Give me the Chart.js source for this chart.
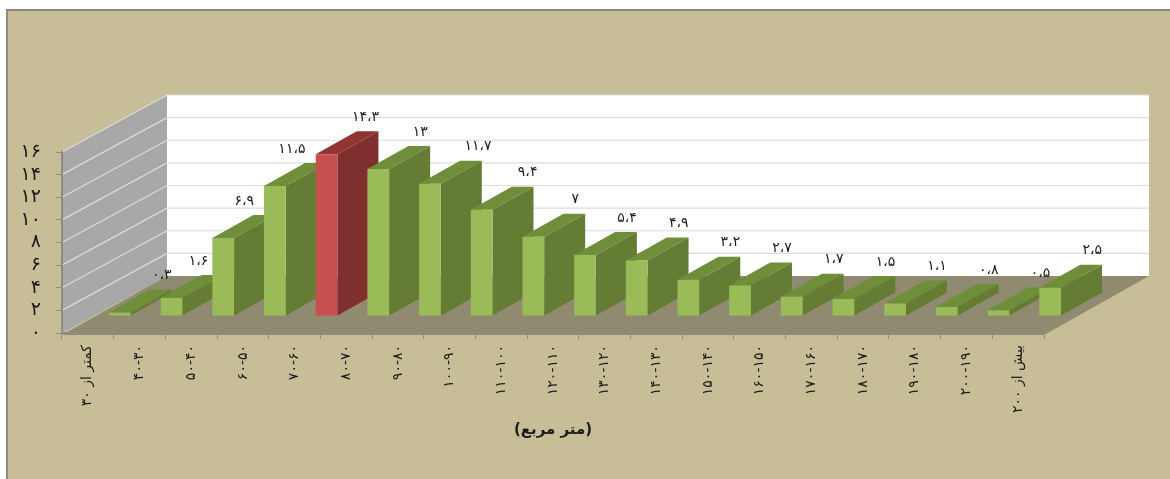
<!DOCTYPE html>
<html>
<head>
<meta charset="utf-8">
<style>
  html, body { margin: 0; padding: 0; background: #fff; }
  #wrap { width: 1170px; height: 479px; }
</style>
<script src="https://cdn.jsdelivr.net/npm/chart.js@4"></script>
</head>
<body>
<div id="wrap"><canvas id="area-chart"></canvas></div>
<script>
const categories = ['کمتر از ۳۰', '۴۰-۳۰', '۵۰-۴۰', '۶۰-۵۰', '۷۰-۶۰', '۸۰-۷۰', '۹۰-۸۰', '۱۰۰-۹۰', '۱۱۰-۱۰۰', '۱۲۰-۱۱۰', '۱۳۰-۱۲۰', '۱۴۰-۱۳۰', '۱۵۰-۱۴۰', '۱۶۰-۱۵۰', '۱۷۰-۱۶۰', '۱۸۰-۱۷۰', '۱۹۰-۱۸۰', '۲۰۰-۱۹۰', 'بیش از ۲۰۰'];
const shares = [0.3, 1.6, 6.9, 11.5, 14.3, 13, 11.7, 9.4, 7, 5.4, 4.9, 3.2, 2.7, 1.7, 1.5, 1.1, 0.8, 0.5, 2.5];
const shareLabels = ['۰،۳', '۱،۶', '۶،۹', '۱۱،۵', '۱۴،۳', '۱۳', '۱۱،۷', '۹،۴', '۷', '۵،۴', '۴،۹', '۳،۲', '۲،۷', '۱،۷', '۱،۵', '۱،۱', '۰،۸', '۰،۵', '۲،۵'];
const yTickLabels = ['۰', '۲', '۴', '۶', '۸', '۱۰', '۱۲', '۱۴', '۱۶'];
const axisTitle = '(متر مربع)';
const highlightIndex = 4;

const FONT = '"DejaVu Sans"';
// depth of the floor, and where the bars stand on it
const WALL_DX = 105, WALL_DY = -57;
const BAR_DX = 32, BAR_DY = -17;
const SIDE_DX = 41, SIDE_DY = -23;
// a few value labels sit closer to their bar
const labelNudge = { 1: -15, 2: -21, 3: -25, 4: -3, 6: 6, 7: 4 };

function poly(ctx, pts, fill) {
  ctx.beginPath();
  pts.forEach((p, i) => (i ? ctx.lineTo(p[0], p[1]) : ctx.moveTo(p[0], p[1])));
  ctx.closePath();
  ctx.fillStyle = fill;
  ctx.fill();
}

const roomPlugin = {
  id: 'room',
  beforeDraw(chart) {
    const { ctx, chartArea: a, scales: { y } } = chart;
    ctx.save();
    ctx.fillStyle = '#c7bd97';
    ctx.fillRect(6, 9, 1164, 470);
    ctx.fillStyle = '#8f8c7e';
    ctx.fillRect(6, 9, 1164, 2);
    ctx.fillRect(6, 9, 2, 470);

    const top = y.getPixelForValue(16), base = y.getPixelForValue(0);
    poly(ctx, [[a.left + WALL_DX, top + WALL_DY], [a.right + WALL_DX, top + WALL_DY], [a.right + WALL_DX, base + WALL_DY], [a.left + WALL_DX, base + WALL_DY]], '#ffffff');
    poly(ctx, [[a.left, top], [a.left + WALL_DX, top + WALL_DY], [a.left + WALL_DX, base + WALL_DY], [a.left, base]], '#a8a8a8');
    poly(ctx, [[a.left, base + 2], [a.right, base + 2], [a.right + WALL_DX, base + WALL_DY], [a.left + WALL_DX, base + WALL_DY]], '#8f8a70');

    ctx.lineWidth = 1.2;
    ctx.strokeStyle = '#dcdcdc';
    y.ticks.forEach((t) => {
      if (t.value === 0) return;
      const py = y.getPixelForValue(t.value);
      ctx.beginPath();
      ctx.moveTo(a.left, py);
      ctx.lineTo(a.left + WALL_DX, py + WALL_DY);
      ctx.lineTo(a.right + WALL_DX, py + WALL_DY);
      ctx.stroke();
    });
    ctx.restore();
  },
  beforeDatasetsDraw(chart) {
    const { ctx } = chart;
    const meta = chart.getDatasetMeta(0);
    ctx.save();
    ctx.translate(BAR_DX, BAR_DY);
    meta.data.forEach((bar, i) => {
      const { x, y, base, width } = bar.getProps(['x', 'y', 'base', 'width'], true);
      const l = x - width / 2, r = x + width / 2;
      const red = i === highlightIndex;
      poly(ctx, [[l, y], [r, y], [r + SIDE_DX, y + SIDE_DY], [l + SIDE_DX, y + SIDE_DY]], red ? '#923432' : '#6f8e39');
      poly(ctx, [[r, y], [r + SIDE_DX, y + SIDE_DY], [r + SIDE_DX, base + SIDE_DY], [r, base]], red ? '#7f2f2d' : '#647c33');
    });
    // the translate stays on for the bars themselves, afterDatasetsDraw restores it
  },
  afterDatasetsDraw(chart) {
    const { ctx } = chart;
    ctx.restore();
    const meta = chart.getDatasetMeta(0);
    ctx.save();
    ctx.font = '14px ' + FONT;
    ctx.letterSpacing = '4px';
    ctx.fillStyle = '#1a1a1a';
    ctx.textAlign = 'center';
    ctx.textBaseline = 'middle';
    meta.data.forEach((bar, i) => {
      const { x, y } = bar.getProps(['x', 'y'], true);
      ctx.fillText(shareLabels[i], x + BAR_DX + 42 + (labelNudge[i] || 0), y + BAR_DY - 37);
    });
    ctx.restore();
  },
};

new Chart(document.getElementById('area-chart').getContext('2d'), {
  type: 'bar',
  data: {
    labels: categories,
    datasets: [
      {
        data: shares,
        backgroundColor: shares.map((v, i) => (i === highlightIndex ? '#c6504e' : '#9abb58')),
        barPercentage: 0.42,
        categoryPercentage: 1,
        clip: false,
      },
    ],
  },
  options: {
    responsive: true,
    maintainAspectRatio: false,
    animation: false,
    layout: { padding: { top: 152, right: 126, left: 0, bottom: 0 } },
    plugins: { legend: { display: false }, tooltip: { enabled: false } },
    scales: {
      x: {
        afterFit: (s) => { s.height = 146; },
        grid: { drawOnChartArea: false, color: '#8f8c7e', tickLength: 6, offset: true },
        border: { color: '#8f8c7e', width: 2 },
        ticks: {
          color: '#1a1a1a',
          font: { family: FONT, size: 14 },
          minRotation: 90,
          maxRotation: 90,
          autoSkip: false,
          padding: 6,
        },
        title: {
          display: true,
          text: axisTitle,
          color: '#1a1a1a',
          font: { family: FONT, size: 15, weight: 'bold' },
          padding: { top: 0, bottom: 40 },
        },
      },
      y: {
        min: 0,
        max: 16,
        afterFit: (s) => { s.width = 62; },
        grid: { drawOnChartArea: false, color: '#8f8c7e', tickLength: 6 },
        border: { color: '#8f8c7e', width: 2 },
        ticks: {
          stepSize: 2,
          autoSkip: false,
          color: '#1a1a1a',
          font: { family: FONT, size: 19 },
          padding: 15,
          callback: (v) => yTickLabels[v / 2],
        },
      },
    },
  },
  plugins: [roomPlugin],
});
</script>
</body>
</html>
